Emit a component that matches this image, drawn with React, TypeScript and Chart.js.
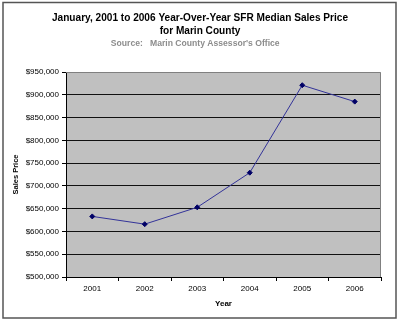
import React, { useEffect, useRef } from "react";
import { Chart, registerables } from "chart.js";

Chart.register(...registerables);

const years = ["2001", "2002", "2003", "2004", "2005", "2006"];
const medianPrices = [633000, 616000, 653000, 729000, 921000, 885000];
const titleLines = [
  "January, 2001 to 2006 Year-Over-Year SFR Median Sales Price",
  "for Marin County",
];
const sourceLine = "Source:   Marin County Assessor's Office";
const yMin = 500000;
const yMax = 950000;
const yStep = 50000;

const FONT = "'Liberation Sans', Arial, sans-serif";

const framePlugin = {
  id: "frame",
  beforeDraw(chart: any) {
    const { ctx, chartArea } = chart;
    ctx.save();
    ctx.fillStyle = "#ffffff";
    ctx.fillRect(0, 0, chart.width, chart.height);
    ctx.fillStyle = "#c0c0c0";
    ctx.fillRect(chartArea.left, chartArea.top, chartArea.right - chartArea.left, chartArea.bottom - chartArea.top);
    ctx.restore();
  },
  afterDraw(chart: any) {
    const { ctx, chartArea } = chart;
    ctx.save();
    ctx.strokeStyle = "#808080";
    ctx.lineWidth = 1;
    ctx.beginPath();
    ctx.moveTo(chartArea.left, chartArea.top + 0.5);
    ctx.lineTo(chartArea.right - 0.5, chartArea.top + 0.5);
    ctx.lineTo(chartArea.right - 0.5, chartArea.bottom);
    ctx.stroke();
    ctx.strokeStyle = "#555555";
    ctx.lineWidth = 1.5;
    ctx.strokeRect(3, 2.5, 393, 315.5);
    ctx.restore();
  },
};

export default function App() {
  const ref = useRef<HTMLCanvasElement>(null);
  useEffect(() => {
    if (!ref.current) return;
    const chart = new Chart(ref.current, {
      type: "line",
      data: {
        labels: years,
        datasets: [
          {
            data: medianPrices,
            borderColor: "#333399",
            borderWidth: 1,
            pointStyle: "rectRot",
            pointRadius: 2.5,
            pointBackgroundColor: "#000066",
            pointBorderColor: "#000066",
            pointBorderWidth: 1,
            tension: 0,
            fill: false,
            yAxisID: "y",
          },
        ],
      },
      plugins: [framePlugin],
      options: {
        animation: false,
        responsive: false,
        layout: { padding: { left: 9, right: 9, top: 0, bottom: 8 } },
        plugins: {
          legend: { display: false },
          tooltip: { enabled: false },
          title: {
            display: true,
            text: titleLines,
            color: "#000000",
            font: { family: FONT, size: 10.1, weight: "bold", lineHeight: "13px" },
            padding: { top: 11.5, bottom: 0 },
          },
          subtitle: {
            display: true,
            text: sourceLine + "\u00a0\u00a0\u00a0\u00a0",
            color: "#8c8c8c",
            font: { family: FONT, size: 8.6, weight: "bold", lineHeight: "10px" },
            padding: { top: 1.2, bottom: 23.3 },
          },
        },
        scales: {
          x: {
            type: "category",
            offset: true,
            grid: {
              display: true,
              offset: true,
              drawOnChartArea: false,
              drawTicks: true,
              tickLength: 4,
              color: "#000000",
            },
            border: { display: true, color: "#000000", width: 1 },
            ticks: {
              color: "#000000",
              font: { family: FONT, size: 8 },
              padding: 3,
              maxRotation: 0,
            },
            title: {
              display: true,
              text: "Year",
              color: "#000000",
              font: { family: FONT, size: 8, weight: "bold", lineHeight: "10px" },
              padding: { top: 0, bottom: 4.5 },
            },
            afterFit(scale: any) {
              scale.height = 36;
            },
          },
          y: {
            type: "linear",
            position: "left",
            min: yMin,
            max: yMax,
            grid: {
              color: (c: any) => (c.tick && c.tick.value === yMax ? "rgba(0,0,0,0)" : "#111111"),
              tickColor: "#000000",
              lineWidth: 1,
              tickLength: 4,
              drawTicks: true,
            },
            border: { display: true, color: "#000000", width: 1 },
            ticks: {
              stepSize: yStep,
              color: "#000000",
              font: { family: FONT, size: 8 },
              padding: 3,
              callback: (v: any) => "$" + Number(v).toLocaleString("en-US"),
            },
            title: {
              display: true,
              text: "Sales Price",
              color: "#000000",
              font: { family: FONT, size: 7.5, weight: "bold", lineHeight: "10px" },
              padding: { top: 1.5, bottom: 0 },
            },
            afterFit(scale: any) {
              scale.width = 57;
            },
          },
          yRightSpacer: {
            type: "linear",
            position: "right",
            display: true,
            min: yMin,
            max: yMax,
            grid: { display: false, drawOnChartArea: false },
            border: { display: false },
            ticks: { display: false },
            title: { display: false },
            afterFit(scale: any) {
              scale.width = 10;
            },
          },
        },
      },
    } as any);
    return () => chart.destroy();
  }, []);
  return (
    <div style={{ position: "absolute", top: 0, left: 0, width: 400, height: 321 }}>
      <canvas ref={ref} width={400} height={321} style={{ display: "block", width: 400, height: 321 }} />
    </div>
  );
}
